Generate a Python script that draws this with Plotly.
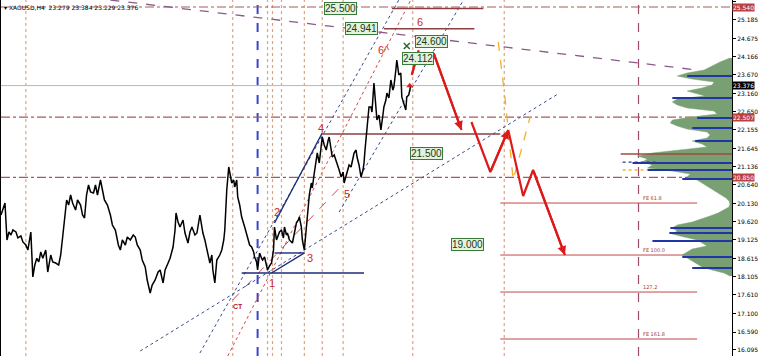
import plotly.graph_objects as go

# ---------------- data ----------------
bar_index = [0, 2, 4, 6, 8, 10, 12, 15, 17, 20,
             22, 25, 27, 30, 32, 34, 36, 38, 40, 42,
             45, 47, 50, 52, 55, 58, 60, 62, 64, 66,
             68, 70, 72, 75, 77, 80, 82, 84, 86, 88,
             90, 93, 95, 97, 100, 102, 104, 107, 110, 112,
             115, 118, 120, 122, 125, 127, 130, 133, 135, 137,
             140, 142, 145, 147, 150, 152, 155, 158, 160, 163,
             165, 168, 170, 173, 175, 176, 178, 180, 183, 185,
             188, 190, 192, 195, 197, 200, 203, 205, 207, 210,
             212, 213, 215, 217, 220, 222, 224, 225, 226, 227,
             229, 231, 232, 234, 235, 237, 238, 240, 242, 245,
             247, 248, 250, 252, 254, 255, 257, 258, 260, 262,
             263, 265, 267, 268, 270, 272, 274, 275, 277, 278,
             280, 282, 284, 285, 287, 288, 290, 293, 295, 297,
             299, 300, 302, 303, 305, 307, 308, 310, 312, 313,
             315, 317, 318, 320, 322, 323, 325, 327, 329, 330,
             332, 333, 335, 338, 340, 342, 344, 345, 347, 348,
             350, 352, 354, 355, 357, 358, 360, 362, 364, 365,
             366, 368, 369, 370, 372, 373, 375, 377, 378, 380,
             382, 384, 385, 387, 388, 390, 392, 394, 395, 397,
             398, 400, 402, 403, 405, 407, 408, 410, 412]
close = [19.812, 19.950, 20.142, 19.124, 19.344, 19.261, 19.399, 19.344, 19.180, 19.234,
         19.070, 18.986, 18.848, 19.344, 18.105, 18.435, 18.620, 18.520, 18.793, 18.620,
         18.848, 18.242, 18.710, 18.520, 18.490, 18.435, 18.710, 19.206, 19.812, 20.225,
         20.087, 20.363, 20.142, 19.950, 20.225, 20.087, 19.812, 19.729, 20.363, 20.638,
         20.445, 20.418, 20.638, 20.363, 20.776, 20.445, 20.225, 20.087, 19.812, 19.536,
         19.399, 18.986, 18.848, 19.124, 18.986, 19.206, 19.124, 19.261, 19.206, 18.986,
         18.848, 18.573, 18.380, 18.022, 17.664, 17.884, 18.022, 18.242, 18.297, 17.939,
         18.297, 18.490, 18.620, 18.931, 19.399, 19.867, 19.620, 19.481, 19.674, 19.316,
         19.041, 19.344, 19.481, 19.261, 19.316, 19.812, 19.316, 19.124, 18.848, 18.490,
         18.710, 18.297, 17.939, 18.573, 18.710, 18.848, 19.124, 19.399, 19.950, 20.500,
         21.134, 20.831, 20.693, 20.776, 20.583, 20.776, 20.308, 20.087, 19.757, 19.481,
         19.261, 19.124, 18.986, 18.931, 18.793, 18.655, 18.520, 18.297, 18.766, 18.620,
         18.573, 18.655, 18.463, 18.297, 18.410, 18.490, 18.848, 19.481, 19.124, 19.206,
         19.344, 19.399, 19.180, 19.481, 19.261, 19.316, 19.124, 19.041, 19.344, 19.591,
         19.674, 19.757, 19.481, 19.124, 18.848, 19.399, 19.867, 20.363, 20.693, 20.555,
         20.969, 21.327, 21.520, 21.244, 21.740, 21.960, 21.740, 21.602, 21.877, 21.960,
         21.602, 21.409, 21.464, 21.244, 21.051, 20.858, 20.996, 20.693, 20.913, 21.051,
         21.189, 21.134, 21.382, 21.520, 21.602, 21.409, 21.189, 20.858, 21.051, 21.244,
         21.602, 22.153, 22.483, 22.786, 22.786, 22.648, 23.447, 22.841, 22.428, 22.566,
         22.153, 22.566, 22.786, 22.979, 23.172, 23.034, 23.530, 23.255, 23.337, 23.805,
         24.081, 23.668, 23.723, 23.062, 22.841, 22.704, 23.062, 23.117, 23.376]

y_ticks = [25.695, 25.185, 24.675, 24.166, 23.670, 23.160, 22.650, 22.155, 21.645, 21.136,
           20.640, 20.130, 19.620, 19.125, 18.615, 18.105, 17.610, 17.100, 16.590, 16.095]
y_range = [15.929, 25.733]
x_range = [0, 735]

# volume profile (price level, volume)
vp_price = [24.136, 24.026, 23.915, 23.805, 23.723, 23.640, 23.557, 23.475, 23.392, 23.310,
            23.227, 23.144, 23.089, 23.007, 22.924, 22.841, 22.759, 22.676, 22.594, 22.511,
            22.428, 22.346, 22.263, 22.180, 22.098, 22.015, 21.933, 21.850, 21.767, 21.685,
            21.602, 21.520, 21.437, 21.354, 21.272, 21.189, 21.106, 21.024, 20.941, 20.858,
            20.776, 20.693, 20.611, 20.528, 20.445, 20.363, 20.280, 20.198, 20.115, 20.032,
            19.950, 19.867, 19.785, 19.702, 19.619, 19.537, 19.454, 19.371, 19.289, 19.206,
            19.124, 19.041, 18.958, 18.876, 18.793, 18.710, 18.628, 18.545, 18.462, 18.380,
            18.297, 18.215, 18.132]
vp_volume = [2, 12, 20, 28, 45, 55, 40, 18, 20, 30,
             45, 35, 27, 55, 60, 55, 45, 18, 15, 40,
             60, 62, 55, 45, 25, 22, 25, 40, 30, 25,
             55, 80, 95, 85, 90, 80, 85, 60, 42, 45,
             35, 30, 25, 20, 15, 10, 6, 3, 2, 3,
             8, 14, 22, 30, 40, 55, 60, 55, 60, 48,
             35, 30, 25, 40, 45, 50, 45, 40, 35, 30,
             20, 8, 2]
vp_peak_price = [23.640, 23.034, 22.483, 22.208, 21.850, 21.244, 21.051, 20.803,
                 19.454, 19.316, 19.096, 18.655, 18.352]
vp_peak_volume = [45, 60, 35, 40, 37, 100, 85, 50, 62, 63, 80, 50, 40]

# key levels
key_levels = [25.540, 22.507, 20.850]
last_price = 23.376
vertical_bars = [25, 233, 268, 273, 282, 305, 323, 344, 414, 506]
session_bar = 258
future_bar = 641

# trend lines: (x0, p0, x1, p1)
navy_dotted = [(200, 16.011, 400, 25.733), (140, 16.067, 560, 23.144), (340, 19.895, 465, 25.733)]
red_dotted = [(228, 15.929, 412, 25.733)]
red_dashed = [(233, 17.471, 345, 20.693)]
purple_dashed = [(110, 25.733, 700, 23.805)]
wave_lines = [(242, 18.215, 365, 18.215), (275, 18.766, 305, 18.766),
              (272, 18.215, 305, 18.766), (275, 19.592, 323, 22.070)]
maroon_lines = [(323, 22.043, 502, 22.043), (393, 25.500, 485, 25.500), (385, 24.941, 476, 24.941)]

# fib extension levels
fib_names = ["FE 61.8", "FE 100.0", "127.2", "FE 161.8"]
fib_values = [20.142, 18.710, 17.691, 16.397]
fib_start, fib_end = 502, 700

# projected paths
path_a_x = [435, 463]
path_a_p = [24.273, 22.153]
path_b_x = [473, 492, 510]
path_b_p = [22.373, 20.996, 22.153]
path_c_x = [510, 525, 535, 567]
path_c_p = [22.153, 20.335, 21.051, 18.710]
path_up_x = [413, 420]
path_up_p = [23.667, 24.351]
alt_x = [500, 507, 515, 523, 532]
alt_p = [24.576, 22.979, 20.776, 21.602, 22.511]

target_labels = ["25.500", "24.941", "24.600", "24.112", "21.500", "19.000"]
target_x = [341, 362, 433, 419, 428, 469]
target_p = [25.500, 24.941, 24.600, 24.112, 21.500, 19.000]

wave_names = ["1", "2", "3", "4", "5", "6", "6^", "CT"]
wave_x = [272, 278, 311, 322, 348, 421, 385, 238]
wave_p = [17.94, 19.89, 18.63, 22.21, 20.39, 25.13, 24.36, 17.28]

# ---------------- figure ----------------
fig = go.Figure()


def seg_trace(segs, color, dash, width, xaxis="x"):
    xs, ys = [], []
    for x0, p0, x1, p1 in segs:
        xs += [x0, x1, None]
        ys += [p0, p1, None]
    fig.add_trace(go.Scatter(x=xs, y=ys, mode="lines", xaxis=xaxis,
                             line=dict(color=color, dash=dash, width=width),
                             hoverinfo="skip", showlegend=False))


# volume profile on reversed overlay axis
fig.add_trace(go.Scatter(x=vp_volume, y=vp_price, xaxis="x2", mode="lines",
                         fill="tozerox", fillcolor="#78a072",
                         line=dict(color="#78a072", width=0.5), showlegend=False))
pk_x, pk_y = [], []
for p, v in zip(vp_peak_price, vp_peak_volume):
    pk_x += [v, 0, None]
    pk_y += [p, p, None]
fig.add_trace(go.Scatter(x=pk_x, y=pk_y, xaxis="x2", mode="lines",
                         line=dict(color="#1f35a8", width=2), showlegend=False))
seg_trace([(112, 21.49, 0, 21.49)], "#a04a40", "solid", 1.5, "x2")
seg_trace([(110, 21.27, 75, 21.27)], "#2a3a90", "dot", 1.2, "x2")
seg_trace([(110, 21.05, 85, 21.05)], "#e8c020", "dot", 1.5, "x2")

# vertical lines
vx, vy = [], []
for b in vertical_bars:
    vx += [b, b, None]
    vy += [y_range[0], y_range[1], None]
fig.add_trace(go.Scatter(x=vx, y=vy, mode="lines",
                         line=dict(color="#e2a27a", dash="dot", width=1.2), showlegend=False))
fig.add_trace(go.Scatter(x=[session_bar, session_bar], y=y_range, mode="lines",
                         line=dict(color="#3a44d0", dash="dash", width=2), showlegend=False))
fig.add_trace(go.Scatter(x=[future_bar, future_bar], y=y_range, mode="lines",
                         line=dict(color="#a24a6a", dash="dash", width=1.2), showlegend=False))

# horizontal key levels
hx, hy = [], []
for lv in key_levels:
    hx += [x_range[0], x_range[1], None]
    hy += [lv, lv, None]
fig.add_trace(go.Scatter(x=hx, y=hy, mode="lines",
                         line=dict(color="#a85a5a", dash="dashdot", width=1.2), showlegend=False))
fig.add_trace(go.Scatter(x=x_range, y=[last_price, last_price], mode="lines",
                         line=dict(color="#b8b8b8", width=1), showlegend=False))

# trend lines
seg_trace(navy_dotted, "#3a4a8a", "dot", 1)
seg_trace(red_dotted, "#d04a4a", "dot", 1)
seg_trace(red_dashed, "#d04a4a", "dash", 1)
seg_trace(purple_dashed, "#8a5a8a", "dash", 1.3)
seg_trace(wave_lines, "#1c2a78", "solid", 1.4)
seg_trace(maroon_lines, "#8a4040", "solid", 1.6)

# fib levels
fx, fy = [], []
for v in fib_values:
    fx += [fib_start, fib_end, None]
    fy += [v, v, None]
fig.add_trace(go.Scatter(x=fx, y=fy, mode="lines",
                         line=dict(color="#c04848", width=1), showlegend=False))

# price
fig.add_trace(go.Scatter(x=bar_index, y=close, mode="lines",
                         line=dict(color="#000000", width=1.5), showlegend=False))

# alternative orange path
fig.add_trace(go.Scatter(x=alt_x, y=alt_p, mode="lines",
                         line=dict(color="#f0b030", dash="dash", width=1.3), showlegend=False))

# red projection paths
for px, pp in [(path_a_x, path_a_p), (path_b_x, path_b_p), (path_c_x, path_c_p), (path_up_x, path_up_p)]:
    fig.add_trace(go.Scatter(x=px, y=pp, mode="lines",
                             line=dict(color="#dd1a1a", width=2.2), showlegend=False))
annotations = []
for px, pp in [(path_a_x, path_a_p), (path_b_x, path_b_p), (path_c_x, path_c_p), (path_up_x, path_up_p)]:
    annotations.append(dict(x=px[-1], y=pp[-1], ax=px[-2], ay=pp[-2], xref="x", yref="y",
                            axref="x", ayref="y", showarrow=True, arrowhead=2, arrowsize=0.8,
                            arrowwidth=2.2, arrowcolor="#dd1a1a", text=""))
fig.add_trace(go.Scatter(x=[411], y=[23.37], mode="markers",
                         marker=dict(symbol="triangle-up", size=6, color="#dd1a1a"), showlegend=False))
fig.add_trace(go.Scatter(x=[408], y=[24.466], mode="markers",
                         marker=dict(symbol="x-thin", size=6, color="#2a6a2a",
                                     line=dict(width=1.5, color="#2a6a2a")), showlegend=False))

# target boxes
for t, x, p in zip(target_labels, target_x, target_p):
    annotations.append(dict(x=x, y=p, xref="x", yref="y", text=t, showarrow=False,
                            font=dict(family="Liberation Sans, Arial", size=10, color="#1a3a1a"),
                            bgcolor="#e4f2dc", bordercolor="#3a7a3a", borderwidth=1, borderpad=0))

# wave labels
for t, x, p in zip(wave_names, wave_x, wave_p):
    if t == "CT":
        annotations.append(dict(x=x, y=p, text="<b>CT</b>", showarrow=False,
                                font=dict(family="Liberation Sans, Arial", size=7, color="#b02020")))
    else:
        annotations.append(dict(x=x, y=p, text=t, showarrow=False,
                                font=dict(family="Liberation Sans, Arial", size=11, color="#cc2a2a")))

# fib labels
for n, v in zip(fib_names, fib_values):
    annotations.append(dict(x=643, y=v, text=n, showarrow=False, xanchor="left", yanchor="bottom",
                            font=dict(family="DejaVu Sans", size=5, color="#a04040")))

# right axis boxes
for lv in key_levels:
    annotations.append(dict(x=1, y=lv, xref="paper", yref="y", text=f"{lv:.3f}", showarrow=False,
                            xanchor="left", font=dict(family="DejaVu Sans", size=6, color="#ffffff"),
                            bgcolor="#b84040", borderpad=0))
annotations.append(dict(x=1, y=last_price, xref="paper", yref="y", text=f"{last_price:.3f}",
                        showarrow=False, xanchor="left",
                        font=dict(family="DejaVu Sans", size=6, color="#ffffff"),
                        bgcolor="#000000", borderpad=0))

# header
annotations.append(dict(x=0.002, y=0.995, xref="paper", yref="paper", xanchor="left", yanchor="top",
                        text="▾ XAGUSD,H4  23.279 23.384 23.229 23.376", showarrow=False,
                        font=dict(family="DejaVu Sans", size=6, color="#000000")))

fig.update_layout(
    width=758, height=356,
    margin=dict(l=0, r=23, t=0, b=0),
    plot_bgcolor="#ffffff", paper_bgcolor="#ffffff",
    showlegend=False,
    annotations=annotations,
    xaxis=dict(range=x_range, showgrid=False, zeroline=False, showticklabels=False,
               showline=False, fixedrange=True),
    xaxis2=dict(range=[735, 0], overlaying="x", visible=False, fixedrange=True),
    yaxis=dict(range=y_range, side="right", showgrid=False, zeroline=False,
               tickvals=y_ticks, ticktext=[f"{v:.3f}" for v in y_ticks],
               ticks="outside", ticklen=3, tickcolor="#000000",
               tickfont=dict(family="DejaVu Sans", size=6, color="#000000"),
               showline=True, linecolor="#000000", linewidth=1, mirror=True),
)

fig.write_html("out.html")
